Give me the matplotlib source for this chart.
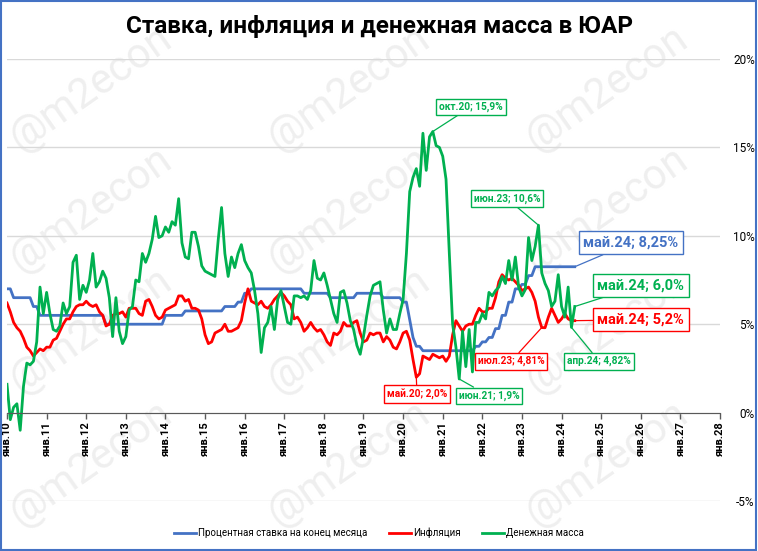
import matplotlib
matplotlib.use("Agg")
import matplotlib.pyplot as plt
from matplotlib.patches import Rectangle
import numpy as np

plt.rcParams['font.family'] = ['Roboto', 'DejaVu Sans']

# monthly data, Jan 2010 .. May 2024
rate = [7.0, 7.0, 6.5, 6.5, 6.5, 6.5, 6.5, 6.5, 6.0, 6.0, 5.5, 5.5,
        5.5, 5.5, 5.5, 5.5, 5.5, 5.5, 5.5, 5.5, 5.5, 5.5, 5.5, 5.5,
        5.5, 5.5, 5.5, 5.5, 5.5, 5.5, 5.0, 5.0, 5.0, 5.0, 5.0, 5.0,
        5.0, 5.0, 5.0, 5.0, 5.0, 5.0, 5.0, 5.0, 5.0, 5.0, 5.0, 5.0,
        5.5, 5.5, 5.5, 5.5, 5.5, 5.5, 5.75, 5.75, 5.75, 5.75, 5.75, 5.75,
        5.75, 5.75, 5.75, 5.75, 5.75, 5.75, 6.0, 6.0, 6.0, 6.0, 6.25, 6.25,
        6.75, 6.75, 7.0, 7.0, 7.0, 7.0, 7.0, 7.0, 7.0, 7.0, 7.0, 7.0,
        7.0, 7.0, 7.0, 7.0, 7.0, 7.0, 6.75, 6.75, 6.75, 6.75, 6.75, 6.75,
        6.75, 6.75, 6.5, 6.5, 6.5, 6.5, 6.5, 6.5, 6.5, 6.5, 6.75, 6.75,
        6.75, 6.75, 6.75, 6.75, 6.75, 6.75, 6.5, 6.5, 6.5, 6.5, 6.5, 6.5,
        6.25, 6.25, 5.25, 4.25, 3.75, 3.75, 3.5, 3.5, 3.5, 3.5, 3.5, 3.5,
        3.5, 3.5, 3.5, 3.5, 3.5, 3.5, 3.5, 3.5, 3.5, 3.5, 3.75, 3.75,
        4.0, 4.0, 4.25, 4.25, 4.75, 4.75, 5.5, 5.5, 6.25, 6.25, 7.0, 7.0,
        7.25, 7.25, 7.75, 7.75, 8.25, 8.25, 8.25, 8.25, 8.25, 8.25, 8.25, 8.25,
        8.25, 8.25, 8.25, 8.25, 8.25]

inflation = [6.2, 5.7, 5.1, 4.8, 4.6, 4.2, 3.7, 3.5, 3.2, 3.4, 3.6, 3.5,
             3.7, 3.7, 4.1, 4.2, 4.6, 5.0, 5.3, 5.3, 5.7, 6.0, 6.1, 6.1,
             6.3, 6.1, 6.0, 6.1, 5.7, 5.5, 4.9, 5.0, 5.5, 5.6, 5.6, 5.7,
             5.4, 5.9, 5.9, 5.9, 5.6, 5.5, 6.3, 6.4, 6.0, 5.5, 5.3, 5.4,
             5.8, 5.9, 6.0, 6.1, 6.6, 6.6, 6.3, 6.4, 5.9, 5.9, 5.8, 5.3,
             4.4, 3.9, 4.0, 4.5, 4.6, 4.7, 5.0, 4.6, 4.6, 4.7, 4.8, 5.2,
             6.2, 7.0, 6.3, 6.2, 6.1, 6.3, 6.0, 5.9, 6.1, 6.4, 6.6, 6.8,
             6.6, 6.3, 6.1, 5.3, 5.4, 5.1, 4.6, 4.8, 5.1, 4.8, 4.6, 4.7,
             4.4, 4.0, 3.8, 4.5, 4.4, 4.6, 5.1, 4.9, 4.9, 5.1, 5.2, 4.5,
             4.0, 4.1, 4.5, 4.4, 4.5, 4.5, 4.0, 4.3, 4.1, 3.7, 3.6, 4.0,
             4.5, 4.6, 4.1, 3.0, 2.0, 2.2, 3.2, 3.1, 3.0, 3.3, 3.2, 3.1,
             3.2, 2.9, 3.2, 4.4, 5.2, 4.9, 4.6, 4.9, 5.0, 5.0, 5.5, 5.9,
             5.7, 5.7, 5.9, 5.9, 6.5, 7.4, 7.8, 7.6, 7.5, 7.6, 7.4, 7.2,
             6.9, 7.0, 7.1, 6.8, 6.3, 5.4, 4.81, 4.8, 5.4, 5.9, 5.5, 5.1,
             5.3, 5.6, 5.3, 5.2, 5.2]

money = [1.6, -0.4, 0.3, 0.5, -1.0, 1.5, 2.8, 2.7, 2.9, 4.0, 7.1, 5.6,
         6.8, 5.6, 4.7, 4.6, 4.9, 6.2, 5.6, 6.0, 8.5, 8.9, 6.4, 7.2,
         6.8, 7.5, 9.0, 7.1, 7.4, 8.0, 7.6, 6.5, 4.3, 6.5, 4.6, 3.9,
         4.3, 5.8, 6.0, 7.5, 7.4, 9.0, 8.5, 9.0, 9.8, 11.1, 9.9, 10.0,
         10.5, 10.2, 10.8, 10.6, 12.1, 9.6, 8.8, 8.7, 10.2, 10.2, 9.4, 8.3,
         8.0, 7.9, 7.8, 7.7, 9.8, 11.6, 9.0, 7.7, 8.8, 8.2, 9.0, 9.5,
         8.6, 8.2, 7.9, 6.9, 5.6, 3.4, 4.8, 5.1, 6.0, 4.7, 6.4, 6.9,
         6.0, 5.1, 5.0, 6.6, 6.6, 6.5, 6.6, 6.4, 6.9, 8.6, 7.6, 7.5,
         7.9, 7.2, 6.4, 5.6, 5.1, 6.8, 6.9, 6.2, 5.2, 4.7, 3.8, 3.3,
         4.3, 5.5, 6.6, 7.2, 7.3, 7.4, 5.8, 4.5, 5.3, 4.7, 4.7, 5.6,
         6.4, 9.0, 12.5, 13.3, 13.8, 12.8, 15.8, 13.7, 15.6, 15.9, 15.1, 15.0,
         14.5, 13.2, 9.0, 5.0, 3.7, 1.9, 4.6, 2.6, 4.7, 2.3, 5.1, 5.1,
         5.6, 5.3, 6.8, 6.6, 6.9, 7.1, 7.7, 7.3, 8.6, 7.5, 8.8, 7.1,
         6.6, 6.95, 9.9, 8.6, 9.4, 10.6, 7.9, 7.3, 6.9, 6.0, 6.3, 7.8,
         6.0, 5.4, 7.1, 4.82, 6.0]

years = list(range(10, 29))
yticks = [-5, 0, 5, 10, 15, 20]

BLUE = '#4472C4'
RED = '#FF0000'
GREEN = '#00B050'

fig = plt.figure(figsize=(7.58, 5.51), dpi=100)
ax = fig.add_axes([7 / 758, 50 / 551, 713 / 758, 442 / 551])
ax.set_facecolor('none')

# watermarks
for wx in [0.12, 0.46, 0.80]:
    for wy in [0.84, 0.62, 0.40, 0.16]:
        fig.text(wx, wy, '@m2econ', fontsize=30, color='#efefef', rotation=35,
                 ha='center', va='center', zorder=-1)

m = np.arange(len(rate))
ax.plot(m, rate, color=BLUE, lw=2.0, solid_joinstyle='round', label='Процентная ставка на конец месяца', zorder=3)
ax.plot(m, inflation, color=RED, lw=2.0, solid_joinstyle='round', label='Инфляция', zorder=3)
ax.plot(m, money, color=GREEN, lw=2.0, solid_joinstyle='round', label='Денежная масса', zorder=3)

# spine position first: it resets the ticks
for s in ['top', 'left', 'right']:
    ax.spines[s].set_visible(False)
ax.spines['bottom'].set_position(('data', 0))
ax.spines['bottom'].set_color('#595959')
ax.spines['bottom'].set_zorder(4)

ax.set_xlim(0, 216)
ax.set_ylim(-5, 20)
ax.set_xticks([12 * (y - 10) for y in years])
ax.set_xticklabels([f'янв.{y}' for y in years], rotation=90, fontsize=8, fontweight='bold')
ax.tick_params(axis='x', length=4, width=1, color='#595959', pad=2)

ax.yaxis.tick_right()
ax.set_yticks(yticks)
ax.set_yticklabels([f'{v}%' for v in yticks], fontsize=8.5, ha='right')
ax.tick_params(axis='y', length=0, pad=25)
ax.yaxis.grid(True, color='#d9d9d9', lw=1)
ax.set_axisbelow(True)


def callout(x, y, text, tx, ty, color, size):
    ax.annotate(text, xy=(x, y), xytext=(tx, ty), textcoords='data',
                ha='center', va='center', fontsize=size, fontweight='bold', color=color,
                bbox=dict(boxstyle='square,pad=0.3', fc='white', ec=color, lw=1),
                arrowprops=dict(arrowstyle='-', color=color, lw=0.9, shrinkA=0, shrinkB=0),
                zorder=6)


callout(129, money[129], 'окт.20; 15,9%', 140.6, 17.3, GREEN, 7.3)
callout(161, money[161], 'июн.23; 10,6%', 151.5, 12.1, GREEN, 7.3)
callout(172, rate[172], 'май.24; 8,25%', 189, 9.6, BLUE, 10.5)
callout(172, money[172], 'май.24; 6,0%', 192, 7.2, GREEN, 10.5)
callout(172, inflation[172], 'май.24; 5,2%', 192, 5.25, RED, 10.5)
callout(171, money[171], 'апр.24; 4,82%', 179.4, 2.9, GREEN, 7.3)
callout(162, inflation[162], 'июл.23; 4,81%', 152.7, 2.9, RED, 7.3)
callout(124, inflation[124], 'май.20; 2,0%', 124.2, 1.05, RED, 7.3)
callout(137, money[137], 'июн.21; 1,9%', 146, 0.95, GREEN, 7.3)

fig.text(0.5, 0.951, 'Ставка, инфляция и денежная масса в ЮАР', ha='center', va='center',
         fontsize=17.5, fontweight='bold')

fig.legend(loc='center', bbox_to_anchor=(0.5, 0.033), ncol=3, frameon=False, fontsize=7,
           handlelength=2.3, handletextpad=0.2, columnspacing=2.2)

fig.add_artist(Rectangle((0.001, 0.002), 0.997, 0.996, transform=fig.transFigure,
                         fill=False, ec=BLUE, lw=1.5))

fig.savefig('out.png', dpi=100)
